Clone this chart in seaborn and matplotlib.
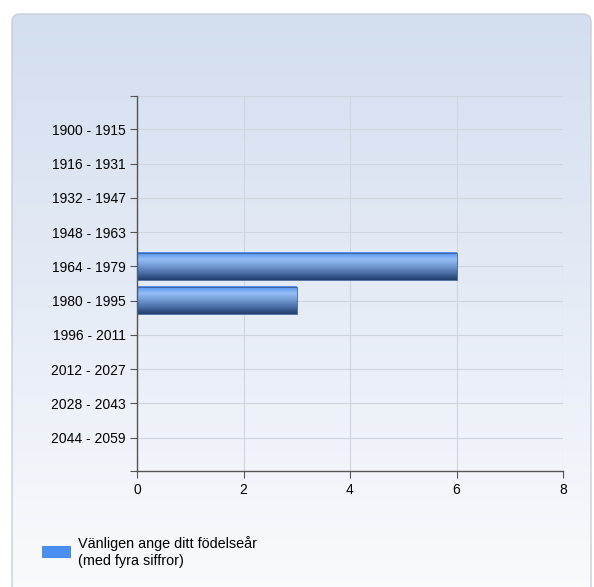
import numpy as np
import pandas as pd
import matplotlib
matplotlib.use("Agg")
import matplotlib.pyplot as plt
import seaborn as sns
from matplotlib.patches import FancyBboxPatch
from matplotlib.colors import LinearSegmentedColormap

categories = ["1900 - 1915", "1916 - 1931", "1932 - 1947", "1948 - 1963", "1964 - 1979",
              "1980 - 1995", "1996 - 2011", "2012 - 2027", "2028 - 2043", "2044 - 2059"]
counts = [0, 0, 0, 0, 6, 3, 0, 0, 0, 0]
x_ticks = [0, 2, 4, 6, 8]
series_name = "Vänligen ange ditt födelseår\n(med fyra siffror)"

df = pd.DataFrame({"period": categories, "count": counts})

sns.set_theme(style="white")
plt.rcParams["font.family"] = ["Liberation Sans", "DejaVu Sans"]

W, H = 594, 587
fig = plt.figure(figsize=(W / 100, H / 100), dpi=100)
fig.patch.set_facecolor("white")

# panel background with vertical gradient
bg = fig.add_axes([0, 0, 1, 1])
bg.set_xlim(0, W)
bg.set_ylim(H, 0)
bg.axis("off")
panel = FancyBboxPatch((12, 14), 579, 600, boxstyle="round,pad=0,rounding_size=8",
                       facecolor="none", edgecolor="#c9ced6", linewidth=1.0)
bg.add_patch(panel)
bg_cmap = LinearSegmentedColormap.from_list("bg", ["#d3deef", "#e6ecf6", "#fafbfd"])
grad = np.linspace(0, 1, 256).reshape(-1, 1)
im = bg.imshow(grad, cmap=bg_cmap, extent=(12, 591, 600, 14), aspect="auto", zorder=0)
im.set_clip_path(panel)

ax = fig.add_axes([137 / W, 1 - 471 / H, (563 - 137) / W, (471 - 96) / H])
ax.patch.set_alpha(0)

sns.barplot(data=df, x="count", y="period", orient="h", color="#4a8fef", width=0.8,
            ax=ax, zorder=3)

# gradient fill on each bar
bar_cmap = LinearSegmentedColormap.from_list(
    "bar", ["#4d8eef", "#95bdf6", "#7199d2", "#4a6ea6", "#223e6c"])
bar_grad = np.linspace(0, 1, 64).reshape(-1, 1)
for p in ax.patches:
    w = p.get_width()
    if w <= 0:
        p.set_visible(False)
        continue
    x0, y0, h = p.get_x(), p.get_y(), p.get_height()
    p.set_facecolor("none")
    p.set_edgecolor("#3d5f94")
    p.set_linewidth(0.6)
    ax.imshow(bar_grad, cmap=bar_cmap, extent=(x0, x0 + w, y0 + h, y0),
              aspect="auto", zorder=2.5)

ax.set_xlim(0, 8)
ax.set_ylim(len(categories) - 0.03, -0.97)
ax.set_xticks(x_ticks)
ax.set_xticklabels([str(t) for t in x_ticks])
ax.set_yticks(range(len(categories)))
ax.set_yticklabels(categories)
ax.set_xlabel("")
ax.set_ylabel("")

ax.grid(True, color="#cfd5de", linewidth=0.8, zorder=0)
ax.axhline(-0.97, color="#cfd5de", linewidth=0.8, zorder=0)
for s in ["top", "right"]:
    ax.spines[s].set_visible(False)
for s in ["left", "bottom"]:
    ax.spines[s].set_color("#555555")
    ax.spines[s].set_linewidth(1.0)

ax.tick_params(axis="both", which="both", length=5, width=0.8, color="#555555",
               labelsize=10, labelcolor="black", direction="out",
               left=True, bottom=True, pad=4)
ax.tick_params(axis="y", pad=3)
ax.set_yticks([-0.97, len(categories) - 0.03], minor=True)
ax.tick_params(axis="y", which="minor", length=5, width=0.8, color="#555555")

# legend
bg.add_patch(plt.Rectangle((42, 546), 29, 12, facecolor="#4a8fef", edgecolor="none", zorder=3))
bg.text(78, 552, series_name, fontsize=10.4, va="center", ha="left", color="black",
        linespacing=1.25, zorder=3)

fig.savefig("out.png", dpi=100)
